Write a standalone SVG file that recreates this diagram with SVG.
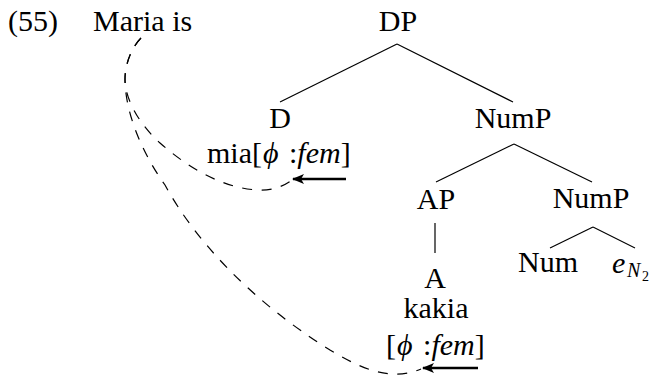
<svg xmlns="http://www.w3.org/2000/svg" width="655" height="379" viewBox="0 0 655 379">
<defs>
<style>
.c{text-anchor:middle}
.i{font-style:italic}
.edge{stroke:#000;stroke-width:1.2;fill:none}
.dash{stroke:#000;stroke-width:1.2;fill:none;stroke-dasharray:10 9.5}
.arr{stroke:#000;stroke-width:2.6;fill:none;marker-end:url(#ah)}
</style>
<marker id="ah" markerWidth="12" markerHeight="10" refX="11" refY="5" orient="auto" markerUnits="userSpaceOnUse">
<path d="M0,0 L12,5 L0,10 L3,5 Z" fill="#000"/>
</marker>
</defs>
<rect width="655" height="379" fill="#fff"/>
<g id="connectors">
<line class="edge" x1="397" y1="44" x2="280" y2="102"/>
<line class="edge" x1="397" y1="44" x2="513" y2="102"/>
<line class="edge" x1="514" y1="144" x2="436" y2="182"/>
<line class="edge" x1="514" y1="144" x2="592" y2="182"/>
<line class="edge" x1="435" y1="223" x2="435" y2="253"/>
<line class="edge" x1="593" y1="227" x2="550" y2="248"/>
<line class="edge" x1="593" y1="227" x2="635" y2="248"/>
<path class="dash" d="M141,38 C131,48 125,65 125,79 C125,100 140,125 160,143 C185,165 220,188 258,190 C272,191 284,186 292,180"/>
<path class="dash" d="M141,38 C131,48 125,65 125,79 C125,110 140,150 165,185 C195,240 250,300 330,350 C360,368 390,382 421,369"/>
<line class="arr" x1="346" y1="179" x2="293" y2="179"/>
<line class="arr" x1="478" y1="368" x2="423" y2="368"/>
</g>
<g font-family="Liberation Serif, Times New Roman, Times, serif" font-size="30" fill="#000">
<g id="label">
<text x="8" y="31">(55)</text>
<text x="93" y="31">Maria is</text>
</g>
<g id="DP"><text class="c" x="398" y="31">DP</text></g>
<g id="D">
<text class="c" x="280" y="128">D</text>
<text x="207" y="163">mia[<tspan font-style="italic" dx="1">ϕ</tspan><tspan dx="3"> :</tspan><tspan font-style="italic">fem</tspan>]</text>
</g>
<g id="NumP"><text class="c" x="513" y="128">NumP</text></g>
<g id="AP"><text class="c" x="436" y="209">AP</text></g>
<g id="NumP2"><text class="c" x="591" y="208">NumP</text></g>
<g id="A">
<text class="c" x="435" y="288">A</text>
<text class="c" x="436" y="318">kakia</text>
<text x="386" y="355">[<tspan font-style="italic" dx="1">ϕ</tspan><tspan dx="3"> :</tspan><tspan font-style="italic">fem</tspan>]</text>
</g>
<g id="Num"><text class="c" x="548" y="272">Num</text></g>
<g id="e">
<text x="612" y="273" font-style="italic">e<tspan x="627" y="277" font-size="20">N</tspan><tspan x="642" y="281" font-size="14" font-style="normal">2</tspan></text>
</g>
</g>
</svg>
